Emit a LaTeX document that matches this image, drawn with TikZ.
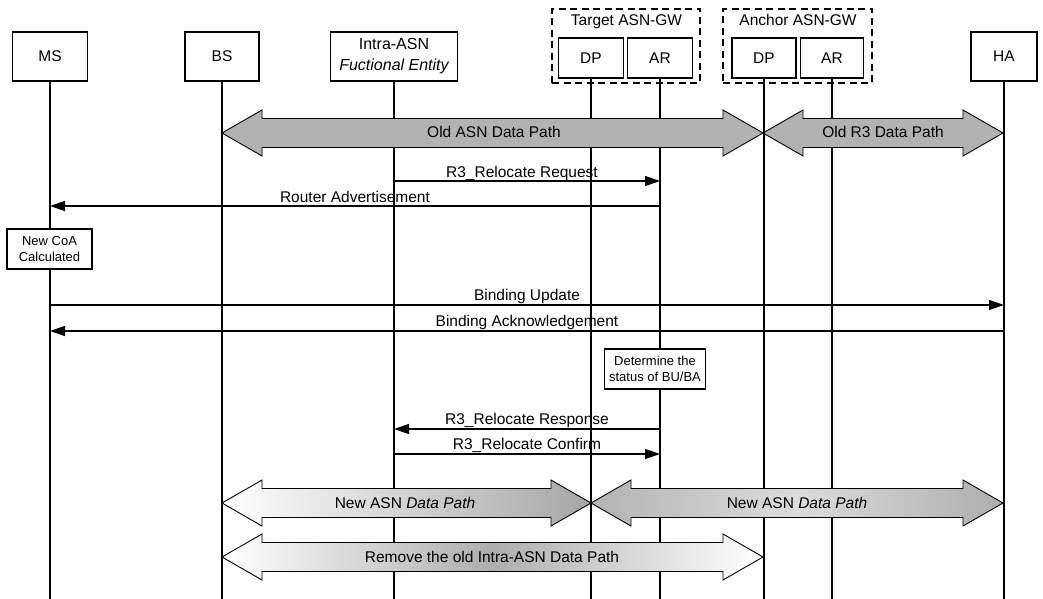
\documentclass[tikz,border=0pt]{standalone}
\usepackage{fontspec}
\setmainfont{Liberation Sans}
\usetikzlibrary{arrows.meta}

% wide two-headed data-path arrow: [style]{left tip x}{right tip x}{centre y}
\newcommand\datapath[4][]{%
  \path[fatarrow,#1] (#2,#4) -- ({#2+40},{#4-23}) -- ({#2+40},{#4-14.5})
    -- ({#3-40},{#4-14.5}) -- ({#3-40},{#4-23}) -- (#3,#4)
    -- ({#3-40},{#4+23}) -- ({#3-40},{#4+14.5}) -- ({#2+40},{#4+14.5})
    -- ({#2+40},{#4+23}) -- cycle;}

\begin{document}
\begin{tikzpicture}[x=1pt,y=-1pt,
  every node/.style={font=\fontsize{15.5}{19}\selectfont},
  ent/.style={draw,line width=1.3pt,fill=white,inner sep=0pt,align=center},
  gw/.style={draw,line width=1.4pt,dash pattern=on 7pt off 4.5pt,inner sep=0pt},
  note/.style={draw,line width=1.1pt,fill=white,inner sep=0pt,align=center,
               font=\fontsize{13}{16}\selectfont},
  life/.style={line width=1.3pt},
  msg/.style={line width=1.3pt,-{Triangle[length=15pt,width=10pt]}},
  lbl/.style={inner sep=0pt,text height=11pt,text depth=0pt},
  fatarrow/.style={draw,line width=0.9pt},
  oldgrey/.style={fill=black!30}]

\useasboundingbox (0,0) rectangle (1043,599);
\coordinate (bottom) at (0,599);

% gateway frames
\node[gw,minimum width=148,minimum height=74] (tgw) at (626,46) {};
\node[gw,minimum width=149,minimum height=74] (agw) at (797.5,46) {};
\node[lbl] (tgwl) at (626.5,20) {Target ASN-GW};
\node[lbl] (agwl) at (798,20) {Anchor ASN-GW};

% entities
\node[ent,minimum width=75,minimum height=49] (ms) at (50,56.5) {MS};
\node[ent,minimum width=74,minimum height=49] (bs) at (222,56.5) {BS};
\node[ent,minimum width=127,minimum height=49,font=\fontsize{16}{21}\selectfont]
  (intra) at (394,56.5) {Intra-ASN\\\itshape Fuctional Entity};
\node[ent,minimum width=65,minimum height=40] (tdp) at (591,58) {DP};
\node[ent,minimum width=65,minimum height=40] (tar) at (660,58) {AR};
\node[ent,minimum width=64,minimum height=40] (adp) at (764,58) {DP};
\node[ent,minimum width=63,minimum height=40] (aar) at (832,58) {AR};
\node[ent,minimum width=66,minimum height=49] (ha) at (1004,56.5) {HA};

% lifelines
\foreach \e in {ms,bs,intra,tdp,tar,adp,aar,ha}
  \draw[life] (\e.south) -- (\e.south |- bottom);

% local actions
\node[note,minimum width=85,minimum height=40] (coa) at (49.5,249)
  {New CoA\\Calculated};
\node[note,minimum width=101,minimum height=40] (det) at (655,369)
  {Determine the\\status of BU/BA};

% signalling messages
\draw[msg] (intra |- 0,181) -- (tar |- 0,181);
\node[lbl] (m1) at (522,172) {R3\_Relocate Request};
\draw[msg] (tar |- 0,206) -- (ms |- 0,206);
\node[lbl] (m2) at (355,197) {Router Advertisement};
\draw[msg] (ms |- 0,305) -- (ha |- 0,305);
\node[lbl] (m3) at (527,295) {Binding Update};
\draw[msg] (ha |- 0,331) -- (ms |- 0,331);
\node[lbl] (m4) at (527,321) {Binding Acknowledgement};
\draw[msg] (tar |- 0,429) -- (intra |- 0,429);
\node[lbl] (m5) at (527,419) {R3\_Relocate Response};
\draw[msg] (intra |- 0,454) -- (tar |- 0,454);
\node[lbl] (m6) at (527,444) {R3\_Relocate Confirm};

% data paths
\datapath[oldgrey]{222}{763}{133}
\datapath[oldgrey]{763}{1003}{133}
\node[lbl] (p1) at (494,132) {Old ASN Data Path};
\node[lbl] (p2) at (883,132) {Old R3 Data Path};

\datapath[left color=white,right color=black!35]{222}{591}{503}
\datapath[left color=black!30,right color=black!32,middle color=black!14]{591}{1003}{503}
\node[lbl] (p3) at (405,503) {New ASN \itshape Data Path};
\node[lbl] (p4) at (797,503) {New ASN \itshape Data Path};

\datapath[left color=white,right color=white,middle color=black!32]{222}{763}{557}
\node[lbl] (p5) at (492,557) {Remove the old Intra-ASN Data Path};
\end{tikzpicture}
\end{document}
